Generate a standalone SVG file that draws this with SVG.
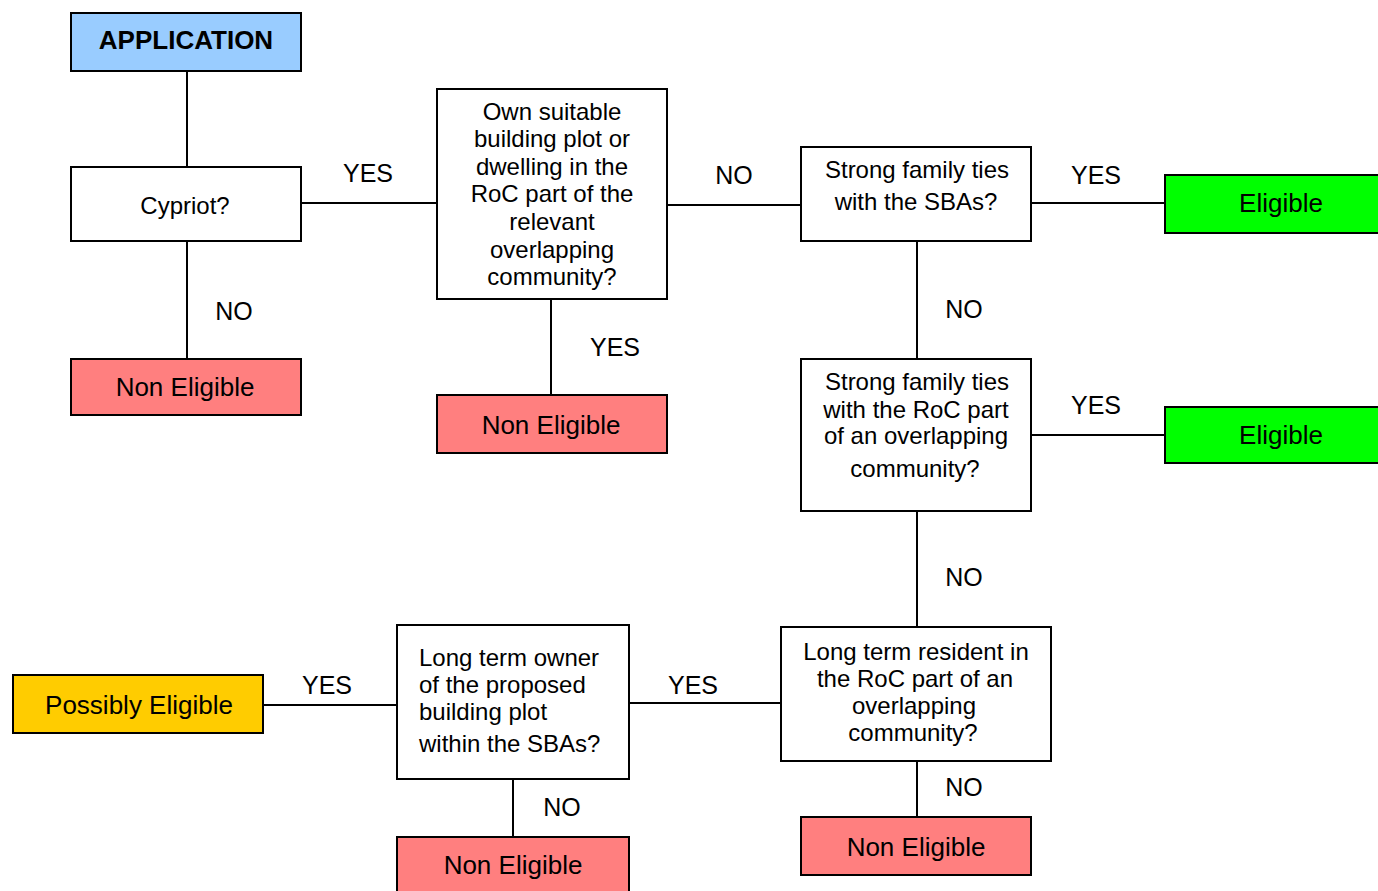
<svg xmlns="http://www.w3.org/2000/svg" width="1378" height="891" viewBox="0 0 1378 891">
<style>
.box{stroke:#000;stroke-width:2}
.q{fill:#fff}
.ne{fill:#FF7F7F}
.el{fill:#00FF00}
.pe{fill:#FFCC00}
.app{fill:#99CCFF}
text{font-family:"Liberation Sans",Arial,sans-serif;fill:#000}
.qt{font-size:24px;text-anchor:middle}
.ot{font-size:26px;text-anchor:middle}
.lb{font-size:25px;text-anchor:middle}
.cn{stroke:#000;stroke-width:2;fill:none}
</style>
<rect width="1378" height="891" fill="#fff"/>
<g id="connectors">
<line class="cn" x1="187" y1="71" x2="187" y2="167"/>
<line class="cn" x1="187" y1="241" x2="187" y2="359"/>
<line class="cn" x1="301" y1="203" x2="437" y2="203"/>
<line class="cn" x1="551" y1="299" x2="551" y2="395"/>
<line class="cn" x1="667" y1="205" x2="801" y2="205"/>
<line class="cn" x1="1031" y1="203" x2="1165" y2="203"/>
<line class="cn" x1="917" y1="241" x2="917" y2="359"/>
<line class="cn" x1="1031" y1="435" x2="1165" y2="435"/>
<line class="cn" x1="917" y1="511" x2="917" y2="627"/>
<line class="cn" x1="917" y1="761" x2="917" y2="817"/>
<line class="cn" x1="629" y1="703" x2="781" y2="703"/>
<line class="cn" x1="263" y1="705" x2="397" y2="705"/>
<line class="cn" x1="513" y1="779" x2="513" y2="837"/>
<text class="lb" x="368" y="182">YES</text>
<text class="lb" x="234" y="320">NO</text>
<text class="lb" x="615" y="356">YES</text>
<text class="lb" x="734" y="184">NO</text>
<text class="lb" x="1096" y="184">YES</text>
<text class="lb" x="964" y="318">NO</text>
<text class="lb" x="1096" y="414">YES</text>
<text class="lb" x="964" y="586">NO</text>
<text class="lb" x="964" y="796">NO</text>
<text class="lb" x="693" y="694">YES</text>
<text class="lb" x="327" y="694">YES</text>
<text class="lb" x="562" y="816">NO</text>
</g>
<g id="application">
<rect class="box app" x="71" y="13" width="230" height="58"/>
<text class="ot" x="186" y="49" font-weight="bold">APPLICATION</text>
</g>
<g id="cypriot">
<rect class="box q" x="71" y="167" width="230" height="74"/>
<text class="qt" x="185" y="214">Cypriot?</text>
</g>
<g id="ne1">
<rect class="box ne" x="71" y="359" width="230" height="56"/>
<text class="ot" x="185" y="396">Non Eligible</text>
</g>
<g id="own">
<rect class="box q" x="437" y="89" width="230" height="210"/>
<text class="qt" x="552" y="120">Own suitable</text>
<text class="qt" x="552" y="147">building plot or</text>
<text class="qt" x="552" y="175">dwelling in the</text>
<text class="qt" x="552" y="202">RoC part of the</text>
<text class="qt" x="552" y="230">relevant</text>
<text class="qt" x="552" y="258">overlapping</text>
<text class="qt" x="552" y="285">community?</text>
</g>
<g id="ne2">
<rect class="box ne" x="437" y="395" width="230" height="58"/>
<text class="ot" x="551" y="434">Non Eligible</text>
</g>
<g id="sft1">
<rect class="box q" x="801" y="147" width="230" height="94"/>
<text class="qt" x="917" y="178">Strong family ties</text>
<text class="qt" x="916" y="210">with the SBAs?</text>
</g>
<g id="el1">
<rect class="box el" x="1165" y="175" width="232" height="58"/>
<text class="ot" x="1281" y="212">Eligible</text>
</g>
<g id="sft2">
<rect class="box q" x="801" y="359" width="230" height="152"/>
<text class="qt" x="917" y="390">Strong family ties</text>
<text class="qt" x="916" y="418">with the RoC part</text>
<text class="qt" x="916" y="444">of an overlapping</text>
<text class="qt" x="915" y="477">community?</text>
</g>
<g id="el2">
<rect class="box el" x="1165" y="407" width="232" height="56"/>
<text class="ot" x="1281" y="444">Eligible</text>
</g>
<g id="ltr">
<rect class="box q" x="781" y="627" width="270" height="134"/>
<text class="qt" x="916" y="660">Long term resident in</text>
<text class="qt" x="915" y="687">the RoC part of an</text>
<text class="qt" x="914" y="714">overlapping</text>
<text class="qt" x="913" y="741">community?</text>
</g>
<g id="ne3">
<rect class="box ne" x="801" y="817" width="230" height="58"/>
<text class="ot" x="916" y="856">Non Eligible</text>
</g>
<g id="lto">
<rect class="box q" x="397" y="625" width="232" height="154"/>
<text x="419" y="666" font-size="24">Long term owner</text>
<text x="419" y="693" font-size="24">of the proposed</text>
<text x="419" y="720" font-size="24">building plot</text>
<text x="419" y="752" font-size="24">within the SBAs?</text>
</g>
<g id="ne4">
<rect class="box ne" x="397" y="837" width="232" height="60"/>
<text class="ot" x="513" y="874">Non Eligible</text>
</g>
<g id="pe">
<rect class="box pe" x="13" y="675" width="250" height="58"/>
<text class="ot" x="139" y="714">Possibly Eligible</text>
</g>
</svg>
